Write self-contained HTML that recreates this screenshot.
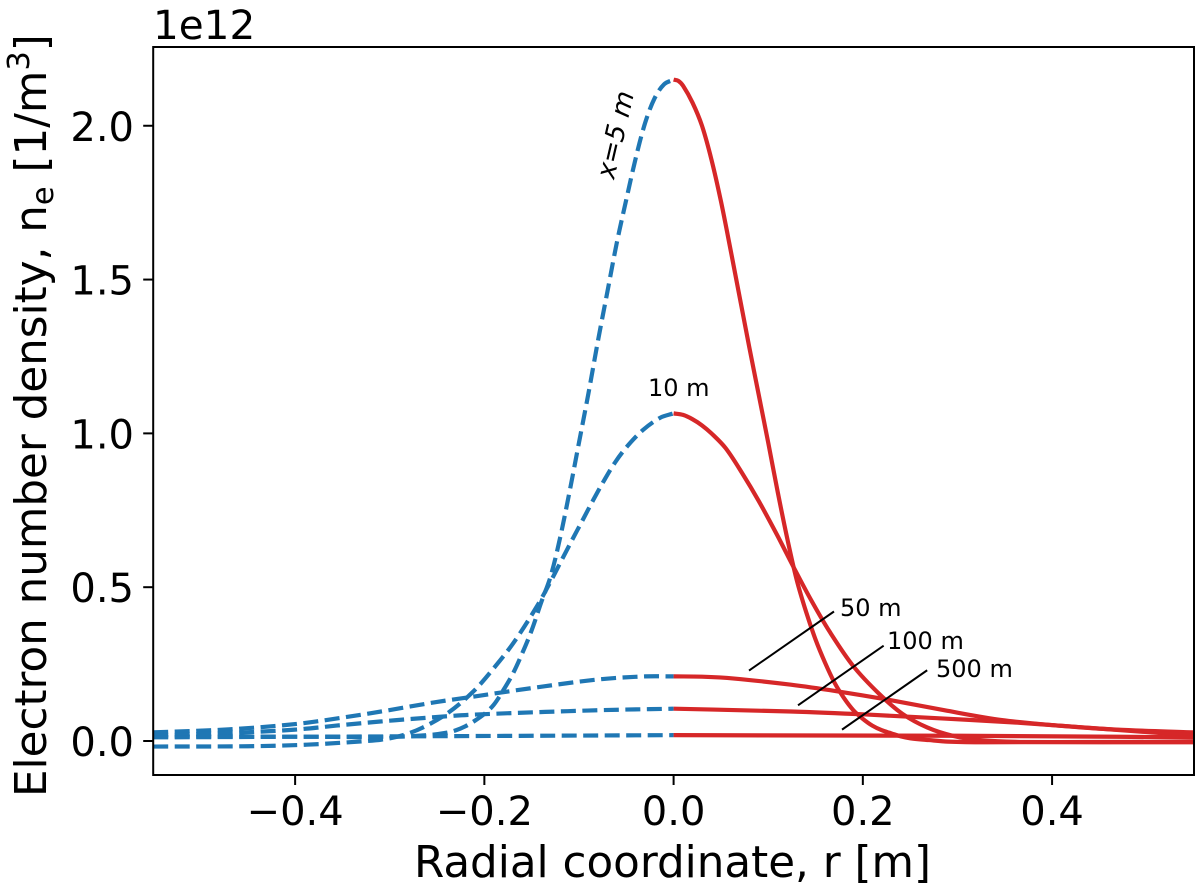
<!DOCTYPE html>
<html lang="en">
<head>
<meta charset="utf-8">
<title>Electron number density vs radial coordinate</title>
<style>
html,body{margin:0;padding:0;background:#fff;width:1200px;height:889px;overflow:hidden}
svg{display:block}
text{font-family:"DejaVu Sans","Liberation Sans",sans-serif;fill:#000}
</style>
</head>
<body>
<svg id="chart" width="1200" height="889" viewBox="0 0 1200 889" xmlns="http://www.w3.org/2000/svg">
<rect x="0" y="0" width="1200" height="889" fill="#fff"/>
<g id="curves"></g>
<g id="leaders"></g>
<g id="axes"></g>
<text x="153" y="39" font-size="40.5">1e12</text>
<text x="672.5" y="877" font-size="43.6" text-anchor="middle">Radial coordinate, r [m]</text>
<text transform="translate(46,797) rotate(-90)" font-size="43.6">Electron number density, n<tspan font-size="30.5" dy="7">e</tspan><tspan dy="-7"> [1/m</tspan><tspan font-size="30.5" dy="-17">3</tspan><tspan dy="17">]</tspan></text>
<text transform="translate(614,180) rotate(-77)" font-size="26.5" font-style="italic">x=5 m</text>
<text x="648" y="396" font-size="24">10 m</text>
<text x="840" y="616" font-size="24">50 m</text>
<text x="887" y="649" font-size="24">100 m</text>
<text x="936" y="677" font-size="24">500 m</text>
</svg>
<script>
const xTicks = [-0.4, -0.2, 0.0, 0.2, 0.4];
const xTickLabels = ['\u22120.4', '\u22120.2', '0.0', '0.2', '0.4'];
const yTicks = [0.0, 0.5, 1.0, 1.5, 2.0];
const yTickLabels = ['0.0', '0.5', '1.0', '1.5', '2.0'];
const xDomain = [-0.55, 0.55];
const yDomain = [-0.1105, 2.256];

const x5LeftR = [-0.55,-0.4,-0.3,-0.26,-0.24,-0.23,-0.22,-0.21,-0.2,-0.19,-0.18,-0.17,-0.16,-0.15,-0.14,-0.13,-0.12,-0.11,-0.1,-0.09,-0.08,-0.07,-0.06,-0.05,-0.04,-0.03,-0.02,-0.01,0];
const x5LeftN = [0.015,0.014,0.013,0.019,0.027,0.035,0.048,0.066,0.088,0.118,0.165,0.218,0.285,0.36,0.45,0.535,0.66,0.81,0.97,1.13,1.30,1.46,1.62,1.76,1.895,2.01,2.09,2.135,2.15];
const x5RightR = [0,0.005,0.01,0.02,0.03,0.04,0.05,0.06,0.07,0.08,0.09,0.1,0.11,0.12,0.13,0.14,0.15,0.16,0.17,0.18,0.19,0.2,0.21,0.22,0.23,0.24,0.25,0.27,0.29,0.33,0.55];
const x5RightN = [2.15,2.146,2.13,2.075,2.0,1.89,1.755,1.60,1.44,1.28,1.125,0.97,0.81,0.66,0.525,0.42,0.33,0.255,0.19,0.14,0.10,0.072,0.05,0.035,0.025,0.015,0.009,0.003,-0.002,-0.004,-0.002];

const x10LeftR = [-0.55,-0.45,-0.388,-0.324,-0.305,-0.285,-0.265,-0.239,-0.212,-0.19,-0.169,-0.144,-0.128,-0.118,-0.107,-0.097,-0.085,-0.074,-0.062,-0.049,-0.032,-0.014,0];
const x10LeftN = [-0.018,-0.017,-0.012,0,0.006,0.02,0.044,0.09,0.16,0.237,0.32,0.44,0.53,0.59,0.655,0.713,0.783,0.844,0.905,0.958,1.012,1.051,1.065];
const x10RightR = [0,0.01,0.02,0.03,0.04,0.055,0.073,0.09,0.109,0.126,0.145,0.165,0.19,0.218,0.242,0.268,0.295,0.324,0.37,0.55];
const x10RightN = [1.065,1.06,1.046,1.026,1.0,0.952,0.868,0.78,0.672,0.57,0.46,0.355,0.243,0.151,0.088,0.044,0.017,0.003,-0.003,-0.004];

const m50LeftR = [-0.55,-0.47,-0.4,-0.35,-0.307,-0.25,-0.21,-0.15,-0.08,-0.03,0];
const m50LeftN = [0.028,0.038,0.055,0.076,0.097,0.127,0.145,0.172,0.2,0.21,0.21];
const m50RightR = [0,0.03,0.064,0.124,0.172,0.225,0.286,0.347,0.407,0.468,0.55];
const m50RightN = [0.21,0.209,0.203,0.183,0.162,0.135,0.1,0.068,0.05,0.037,0.028];

const m100LeftR = [-0.55,-0.47,-0.4,-0.35,-0.3,-0.25,-0.21,-0.08,0];
const m100LeftN = [0.018,0.026,0.037,0.052,0.066,0.078,0.086,0.10,0.105];
const m100RightR = [0,0.124,0.205,0.286,0.367,0.447,0.55];
const m100RightN = [0.105,0.096,0.086,0.073,0.059,0.041,0.018];

const m500LeftR = [-0.55,-0.3,0];
const m500LeftN = [0.012,0.015,0.019];
const m500RightR = [0,0.3,0.55];
const m500RightN = [0.019,0.017,0.012];

const leaderR0 = [0.0797,0.1315,0.178];
const leaderN0 = [0.229,0.116,0.037];
const leaderR1 = [0.1695,0.222,0.268];
const leaderN1 = [0.421,0.31,0.23];
const leaderNames = ['leader-50m','leader-100m','leader-500m'];

const plotLeft = 153.2, plotRight = 1194, plotTop = 47, plotBottom = 775;
const NS = 'http://www.w3.org/2000/svg';
function xScale(v){ return plotLeft + (v - xDomain[0]) / (xDomain[1] - xDomain[0]) * (plotRight - plotLeft); }
function yScale(v){ return plotBottom - (v - yDomain[0]) / (yDomain[1] - yDomain[0]) * (plotBottom - plotTop); }

function smoothPath(rs, ns){
  const p = rs.map((r, i) => [xScale(r), yScale(ns[i])]);
  let d = 'M' + p[0][0].toFixed(2) + ' ' + p[0][1].toFixed(2);
  for (let i = 0; i < p.length - 1; i++) {
    const a = p[Math.max(i - 1, 0)], b = p[i], c = p[i + 1], e = p[Math.min(i + 2, p.length - 1)];
    const len = Math.hypot(c[0] - b[0], c[1] - b[1]);
    const l1 = Math.hypot(c[0] - a[0], c[1] - a[1]) || 1;
    const l2 = Math.hypot(e[0] - b[0], e[1] - b[1]) || 1;
    const k = len / 3;
    d += ' C' + (b[0] + (c[0] - a[0]) / l1 * k).toFixed(2) + ' ' + (b[1] + (c[1] - a[1]) / l1 * k).toFixed(2) +
         ' ' + (c[0] - (e[0] - b[0]) / l2 * k).toFixed(2) + ' ' + (c[1] - (e[1] - b[1]) / l2 * k).toFixed(2) +
         ' ' + c[0].toFixed(2) + ' ' + c[1].toFixed(2);
  }
  return d;
}

const curves = document.getElementById('curves');
function addCurve(name, rs, ns, color, dashed){
  const path = document.createElementNS(NS, 'path');
  
  
  path.setAttribute('d', smoothPath(rs, ns));
  path.setAttribute('fill', 'none');
  path.setAttribute('stroke', color);
  path.setAttribute('stroke-width', '4.2');
  if (dashed) path.setAttribute('stroke-dasharray', '15 6.5');
  curves.appendChild(path);
}
const BLUE = '#1f77b4', RED = '#d62728';
addCurve('curve-x5-left', x5LeftR, x5LeftN, BLUE, true);
addCurve('curve-x5-right', x5RightR, x5RightN, RED, false);
addCurve('curve-x10-left', x10LeftR, x10LeftN, BLUE, true);
addCurve('curve-x10-right', x10RightR, x10RightN, RED, false);
addCurve('curve-x50-left', m50LeftR, m50LeftN, BLUE, true);
addCurve('curve-x50-right', m50RightR, m50RightN, RED, false);
addCurve('curve-x100-left', m100LeftR, m100LeftN, BLUE, true);
addCurve('curve-x100-right', m100RightR, m100RightN, RED, false);
addCurve('curve-x500-left', m500LeftR, m500LeftN, BLUE, true);
addCurve('curve-x500-right', m500RightR, m500RightN, RED, false);

const leaders = document.getElementById('leaders');
leaderNames.forEach((nm, i) => {
  const l = document.createElementNS(NS, 'line');
  
  
  l.setAttribute('x1', xScale(leaderR0[i]));
  l.setAttribute('y1', yScale(leaderN0[i]));
  l.setAttribute('x2', xScale(leaderR1[i]));
  l.setAttribute('y2', yScale(leaderN1[i]));
  l.setAttribute('stroke', '#000');
  l.setAttribute('stroke-width', '2');
  leaders.appendChild(l);
});

const axes = document.getElementById('axes');
const frame = document.createElementNS(NS, 'rect');


frame.setAttribute('x', plotLeft);
frame.setAttribute('y', plotTop);
frame.setAttribute('width', plotRight - plotLeft);
frame.setAttribute('height', plotBottom - plotTop);
frame.setAttribute('fill', 'none');
frame.setAttribute('stroke', '#000');
frame.setAttribute('stroke-width', '2');
axes.appendChild(frame);

xTicks.forEach((v, i) => {
  const t = document.createElementNS(NS, 'line');
  
  
  t.setAttribute('x1', xScale(v));
  t.setAttribute('x2', xScale(v));
  t.setAttribute('y1', plotBottom);
  t.setAttribute('y2', plotBottom + 10);
  t.setAttribute('stroke', '#000');
  t.setAttribute('stroke-width', '2');
  axes.appendChild(t);
  const lb = document.createElementNS(NS, 'text');
  
  
  lb.setAttribute('x', xScale(v));
  lb.setAttribute('y', 825);
  lb.setAttribute('font-size', '40');
  lb.setAttribute('text-anchor', 'middle');
  lb.textContent = xTickLabels[i];
  axes.appendChild(lb);
});

yTicks.forEach((v, i) => {
  const t = document.createElementNS(NS, 'line');
  
  
  t.setAttribute('x1', plotLeft - 10);
  t.setAttribute('x2', plotLeft);
  t.setAttribute('y1', yScale(v));
  t.setAttribute('y2', yScale(v));
  t.setAttribute('stroke', '#000');
  t.setAttribute('stroke-width', '2');
  axes.appendChild(t);
  const lb = document.createElementNS(NS, 'text');
  
  
  lb.setAttribute('x', 134);
  lb.setAttribute('y', yScale(v) + 15);
  lb.setAttribute('font-size', '40');
  lb.setAttribute('text-anchor', 'end');
  lb.textContent = yTickLabels[i];
  axes.appendChild(lb);
});
</script>
</body>
</html>
